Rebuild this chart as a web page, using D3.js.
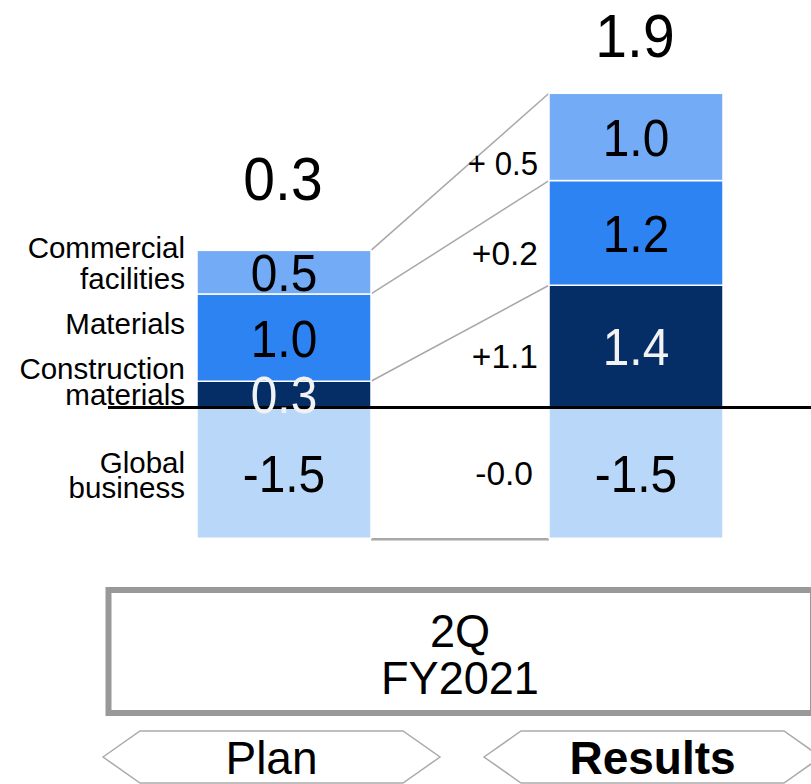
<!DOCTYPE html>
<html>
<head>
<meta charset="utf-8">
<script src="https://cdn.jsdelivr.net/npm/d3@7/dist/d3.min.js"></script>
<style>
  html, body { margin: 0; padding: 0; background: #fff; }
  svg { display: block; font-family: "Liberation Sans", Arial, sans-serif; }
</style>
</head>
<body>
<svg id="chart" width="811" height="784"></svg>
<script>
// Operating income by segment: plan vs. results (2Q FY2021)
const periods = ["Plan", "Results"];
const segments = ["Construction materials", "Materials", "Commercial facilities", "Global business"];
const segmentLines = [["Construction", "materials"], ["Materials"], ["Commercial", "facilities"], ["Global", "business"]];
const planValues = [0.3, 1.0, 0.5, -1.5];
const resultValues = [1.4, 1.2, 1.0, -1.5];
const totals = [0.3, 1.9];
const diffLabels = ["+1.1", "+0.2", "+ 0.5", "-0.0"];
const periodTitle = ["2Q", "FY2021"];

const colors = ["#062e66", "#2e83f2", "#74abf6", "#b9d7f9"];
const valueColors = ["#f2f2f2", "#000", "#000", "#000"];

const svg = d3.select("#chart");
const W = 811;

const y = d3.scaleLinear().domain([-1.5, 3.6]).range([538.3, 93.3]);
const x = d3.scaleBand().domain(periods).range([197, 723]).paddingInner(1 - 174 / 352).paddingOuter(0);
const xFoot = d3.scaleBand().domain(periods).range([103, 821]).paddingInner(44 / 381).paddingOuter(0);

// stack positives upward and negatives downward from zero
function stack(values) {
  let pos = 0, neg = 0;
  return values.map((v, i) => {
    let y0, y1;
    if (v >= 0) { y0 = pos; y1 = pos + v; pos = y1; }
    else { y0 = neg; y1 = neg + v; neg = y1; }
    return { i, v, lo: Math.min(y0, y1), hi: Math.max(y0, y1) };
  });
}
const stacks = { Plan: stack(planValues), Results: stack(resultValues) };

// horizontally condensed text helper
function squeezeText(g, tx, ty, str, size, fill, opts = {}) {
  return g.append("text")
    .attr("transform", `translate(${tx},${ty}) scale(${opts.sx || 0.92},1)`)
    .attr("text-anchor", opts.anchor || "middle")
    .attr("font-size", size)
    .attr("font-weight", opts.weight || "normal")
    .attr("fill", fill)
    .text(str);
}

// connectors between the plan and results bars
const conn = svg.append("g").attr("stroke", "#a8a8a8").attr("fill", "none");
const pRight = x("Plan") + x.bandwidth();
const rLeft = x("Results");
[0, 1, 2].forEach(k => {
  conn.append("line")
    .attr("x1", pRight).attr("y1", y(stacks.Plan[k].hi))
    .attr("x2", rLeft).attr("y2", y(stacks.Results[k].hi))
    .attr("stroke-width", 1.5);
});
conn.append("line")
  .attr("x1", pRight).attr("y1", y(stacks.Plan[3].lo) + 1)
  .attr("x2", rLeft).attr("y2", y(stacks.Results[3].lo) + 1)
  .attr("stroke-width", 2.5);

// bars
periods.forEach(p => {
  svg.append("g").selectAll("rect").data(stacks[p]).join("rect")
    .attr("x", x(p))
    .attr("width", x.bandwidth())
    .attr("y", d => y(d.hi))
    .attr("height", d => y(d.lo) - y(d.hi))
    .attr("fill", d => colors[d.i])
    .attr("stroke", "#fff")
    .attr("stroke-width", 1.5);
});

// zero line
svg.append("line")
  .attr("x1", 108).attr("x2", W)
  .attr("y1", y(0)).attr("y2", y(0))
  .attr("stroke", "#000").attr("stroke-width", 3);

// segment values inside bars, totals above
const totalLift = [50, 36];
periods.forEach((p, k) => {
  const g = svg.append("g");
  const cx = x(p) + x.bandwidth() / 2;
  stacks[p].forEach(d => {
    const cy = (y(d.lo) + y(d.hi)) / 2;
    squeezeText(g, cx, cy + 19, d.v.toFixed(1), 52, valueColors[d.i]);
  });
  const top = d3.max(stacks[p], d => d.hi);
  squeezeText(g, cx - 1, y(top) - totalLift[k], totals[k].toFixed(1), 62, "#000");
});

// difference labels between the bars
const dg = svg.append("g");
const xd = 515, xLab = 538;
const t = (xd - pRight) / (rLeft - pRight);
stacks.Plan.forEach((d, k) => {
  const r = stacks.Results[k];
  const a = y(d.lo) + (y(r.lo) - y(d.lo)) * t;
  const b = y(d.hi) + (y(r.hi) - y(d.hi)) * t;
  squeezeText(dg, xLab - (k === 3 ? 5 : 0), (a + b) / 2 + 12, diffLabels[k], 33.5, "#000",
    { anchor: "end", sx: k === 2 ? 0.93 : 1 });
});

// segment names to the left of the plan bar (one text per name, lines as tspans)
const lg = svg.append("g").attr("font-size", 29.5).attr("text-anchor", "end").attr("fill", "#000");
const labelNudge = [-12, -14, -9, 3];
const lineGap = [26, 29, 31, 25];
stacks.Plan.forEach(d => {
  const lines = segmentLines[d.i];
  const cy = (y(d.lo) + y(d.hi)) / 2 + labelNudge[d.i];
  const h = (lines.length - 1) * lineGap[d.i];
  const txt = lg.append("text").attr("x", 185).attr("y", cy - h / 2 + 10);
  lines.forEach((ln, j) => {
    txt.append("tspan")
      .attr("x", 185)
      .attr("dy", j === 0 ? 0 : lineGap[d.i])
      .text(ln);
  });
});

// period box
svg.append("rect")
  .attr("x", 108.5).attr("y", 590)
  .attr("width", 813 - 108.5).attr("height", 713 - 590)
  .attr("fill", "none").attr("stroke", "#999").attr("stroke-width", 6);
const bg = svg.append("g");
periodTitle.forEach((s, j) => {
  squeezeText(bg, 460, 647 + j * 47, s, 46, "#000", { sx: 0.98 });
});

// chevron labels
const fg = svg.append("g");
periods.forEach((p, k) => {
  const x0 = xFoot(p), x1 = x0 + xFoot.bandwidth();
  const tip = 37, yT = 731, yB = 783, yM = (yT + yB) / 2;
  const path = d3.path();
  path.moveTo(x0, yM);
  path.lineTo(x0 + tip, yT);
  path.lineTo(x1 - tip, yT);
  path.lineTo(x1, yM);
  path.lineTo(x1 - tip, yB);
  path.lineTo(x0 + tip, yB);
  path.closePath();
  fg.append("path").attr("d", path.toString())
    .attr("fill", "#fff").attr("stroke", "#aaa").attr("stroke-width", 1.5);
  squeezeText(fg, (x0 + x1) / 2, 774, p, 46, "#000", { weight: k === 1 ? "bold" : "normal", sx: 1 });
});
</script>
</body>
</html>
